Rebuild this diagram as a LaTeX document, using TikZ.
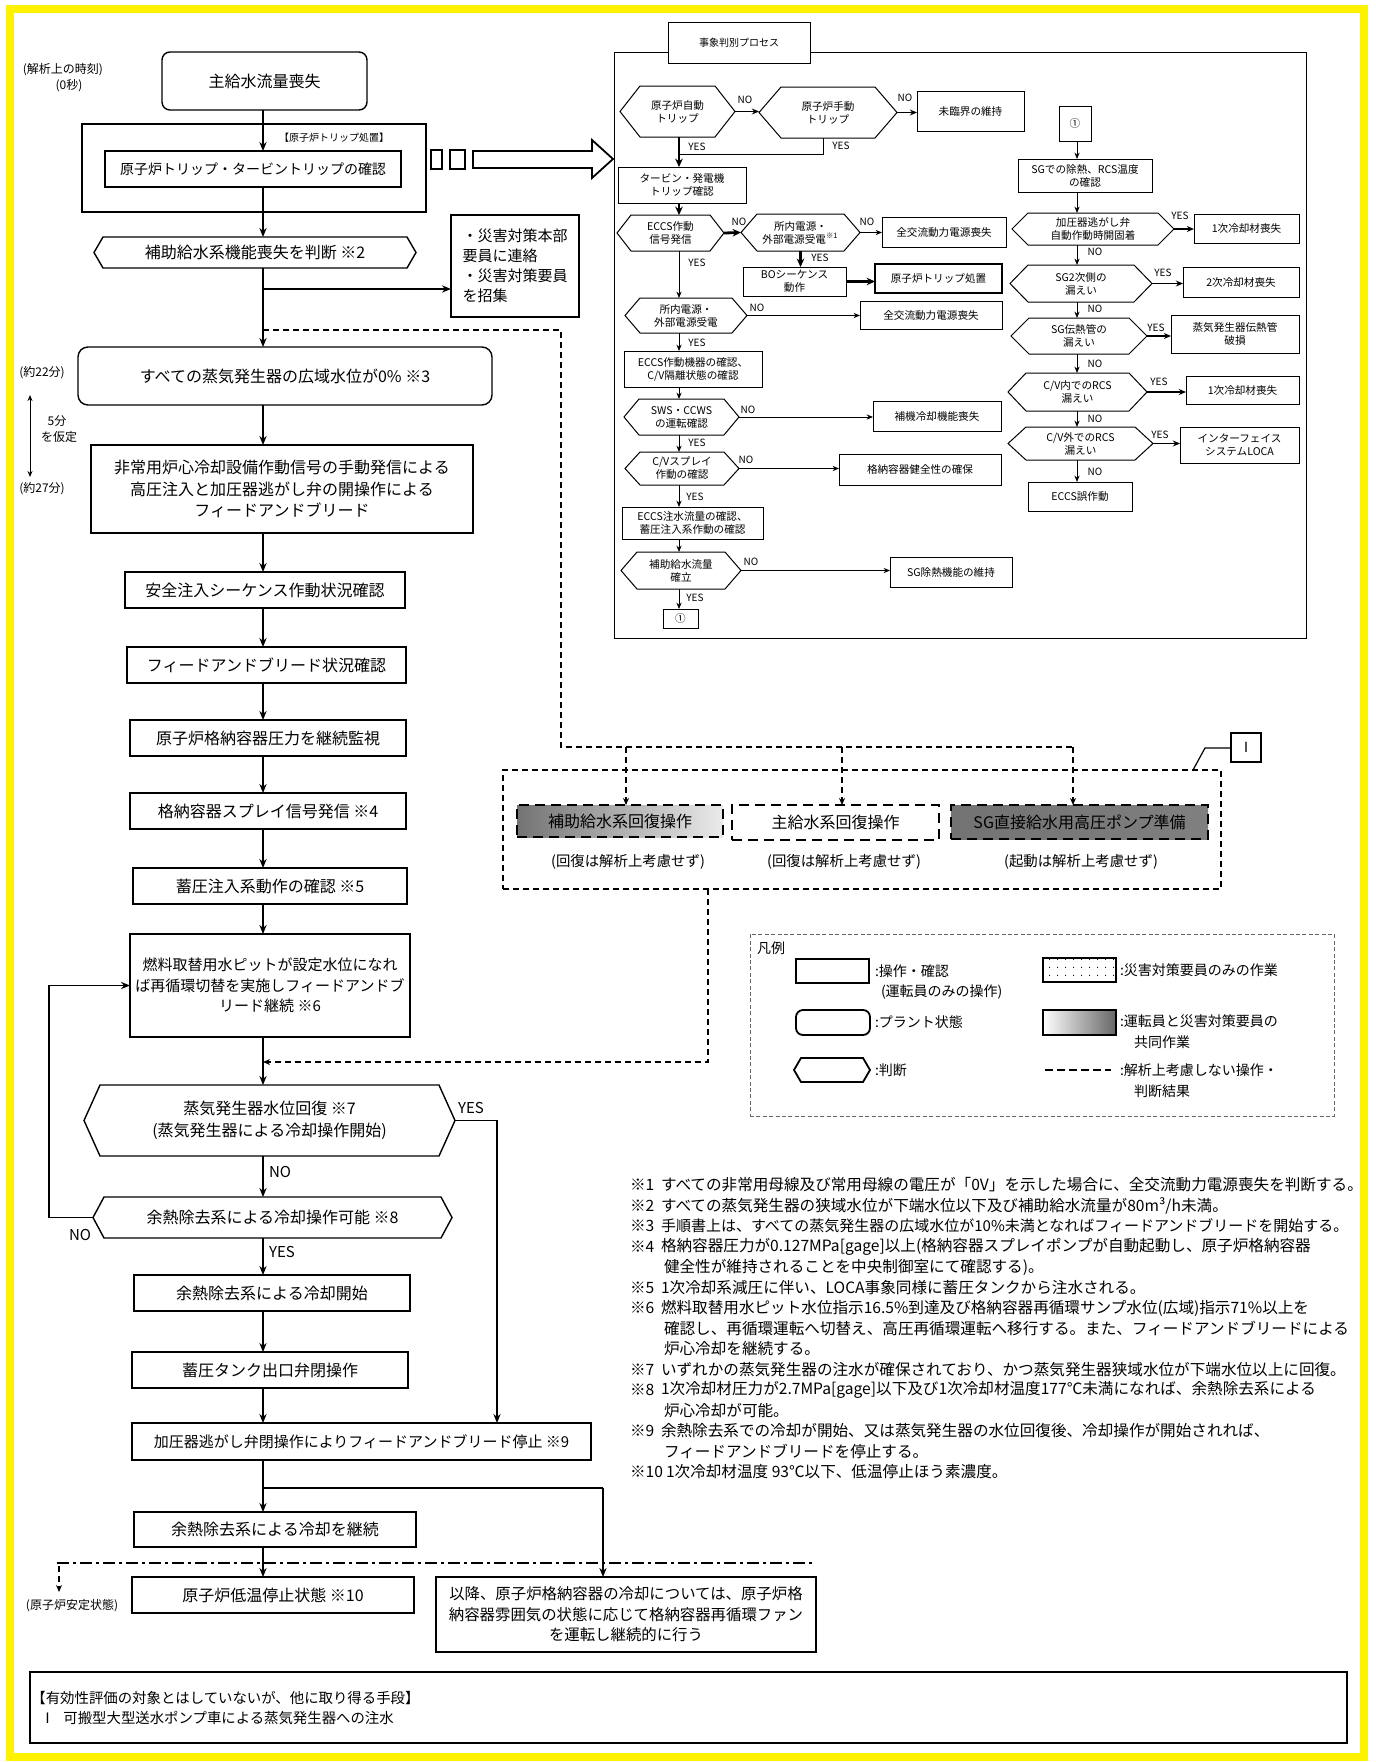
\documentclass[tikz,border=0pt]{standalone}
\usepackage{fontspec}
\setmainfont{Noto Sans CJK JP}
\usetikzlibrary{arrows.meta,patterns.meta}
\newcommand\fmn{\fontsize{8pt}{10.75pt}\selectfont}
\newcommand\fmh{\fontsize{7.5pt}{10.25pt}\selectfont}
\newcommand\fmx{\fontsize{7pt}{9pt}\selectfont}
\newcommand\fsm{\fontsize{6pt}{7.5pt}\selectfont}
\newcommand\ftiny{\fontsize{5pt}{6.5pt}\selectfont}
\newcommand\frp{\fontsize{5.3pt}{6.5pt}\selectfont}
\newcommand\fnt{\fontsize{7.8pt}{10pt}\selectfont}
\newcommand\fnts{\fontsize{7.5pt}{10pt}\selectfont}
\newcommand\fyn{\fontsize{7.5pt}{9pt}\selectfont}
\newcommand\fgr{\fontsize{7.2pt}{9pt}\selectfont}
\newcommand\fsai{\fontsize{7.5pt}{10pt}\selectfont}
\newcommand\fik{\fontsize{7.7pt}{10.3pt}\selectfont}
\newcommand\mybx[7][]{\node[bxs,minimum width={(#5-#3)*0.5pt},minimum height={(#6-#4)*0.5pt},#1] (#2) at ({(#3+#5)/2},{(#4+#6)/2}) {#7};}
\newcommand\myhx[8][]{\node[hxs,minimum width={(#5-#3)*0.5pt},minimum height={(#6-#4)*0.5pt},#1] (#2) at ({(#3+#5)/2},{(#4+#6)/2}) {#8};
\draw[hxl] (#2.west) -- ({#3+#7},#4) -- ({#5-#7},#4) -- (#2.east) -- ({#5-#7},#6) -- ({#3+#7},#6) -- cycle;}
\begin{document}
\begin{tikzpicture}[x=0.5pt,y=-0.5pt,
  bxs/.style={draw,line width=0.7pt,inner sep=0pt,outer sep=0pt,align=center,font=\fmn},
  hxs/.style={inner sep=0pt,outer sep=0pt,align=center,font=\fmn},
  hxl/.style={draw,line width=0.7pt},
  lbl/.style={inner sep=0pt,outer sep=0pt,font=\fsm},
  yn/.style={inner sep=0pt,outer sep=0pt,font=\fyn},
  rl/.style={inner sep=0pt,outer sep=0pt,font=\ftiny},
  arr/.style={line width=0.7pt,-{Stealth[length=4.5pt,width=3.6pt]}},
  ln/.style={line width=0.7pt},
  rar/.style={line width=0.5pt,-{Stealth[length=3.2pt,width=2.6pt]}},
  rmd/.style={line width=0.9pt,-{Stealth[length=3.6pt,width=3pt]}},
  rtk/.style={line width=1.4pt,-{Stealth[length=4.2pt,width=3.8pt]}},
  rln/.style={line width=0.5pt},
  dsh/.style={line width=0.8pt,dash pattern=on 3pt off 2pt},
  dsharr/.style={dsh,-{Stealth[length=3.5pt,width=3pt]}},
  gdash/.style={line width=1.4pt,dash pattern=on 5pt off 3pt},
  note/.style={inner sep=0pt,outer sep=0pt,anchor=west,font=\fnt},
  lgt/.style={inner sep=0pt,outer sep=0pt,anchor=west,font=\fmx}
]
\useasboundingbox (0,0) rectangle (1376,1762);
\fill[white] (0,0) rectangle (1376,1762);
\draw[yellow,line width=4pt] (10,9) rectangle (1364,1757);

% ---------- timing labels ----------
\node[lbl] (t0a) at (63,70) {(解析上の時刻)};
\node[lbl] (t0b) at (69,86) {(0秒)};
\node[lbl] (t22) at (42,373) {(約22分)};
\node[lbl] (t5a) at (57,421) {5分};
\node[lbl] (t5b) at (59,437) {を仮定};
\node[lbl] (t27) at (42,489) {(約27分)};
\coordinate (ta) at (30,395);
\coordinate (tb) at (30,477);
\draw[line width=0.5pt,{Stealth[length=3pt,width=2.5pt]}-{Stealth[length=3pt,width=2.5pt]}] (ta) -- (tb);

% ---------- left column ----------
\coordinate (cx) at (263,0);
\mybx[rounded corners=4pt]{n0}{162}{52}{367}{110}{主給水流量喪失}
\mybx{ntg}{82}{124}{426}{212}{}
\node[lbl,font=\ftiny] (ntl) at (334,138) {【原子炉トリップ処置】};
\mybx[font=\fmx]{ntrip}{105}{151}{401}{187}{原子炉トリップ・タービントリップの確認}
\mybx[line width=0.6pt]{sq1}{431}{150}{442}{169}{}
\mybx[line width=0.6pt]{sq2}{450}{150}{465}{169}{}
\draw[line width=0.9pt] (473,151) -- (592,151) -- (592,140) -- (613,159) -- (592,178) -- (592,168) -- (473,168) -- cycle;
\myhx{nh2}{94}{237}{416}{268}{9}{補助給水系機能喪失を判断 ※2}
\mybx[align=left,font=\fsai]{nsai}{451}{215}{579}{317}{・災害対策本部\\要員に連絡\\・災害対策要員\\を招集}
\mybx[rounded corners=5pt]{n3}{78}{347}{492}{405}{すべての蒸気発生器の広域水位が0\% ※3}
\mybx{n4}{91}{445}{473}{533}{非常用炉心冷却設備作動信号の手動発信による\\高圧注入と加圧器逃がし弁の開操作による\\フィードアンドブリード}
\mybx{n5}{125}{572}{405}{608}{安全注入シーケンス作動状況確認}
\mybx{n6}{127}{647}{406}{683}{フィードアンドブリード状況確認}
\mybx{n7}{130}{720}{406}{756}{原子炉格納容器圧力を継続監視}
\mybx{n8}{130}{793}{406}{829}{格納容器スプレイ信号発信 ※4}
\mybx{n9}{133}{868}{407}{904}{蓄圧注入系動作の確認 ※5}
\mybx[font=\fmh]{n10}{130}{934}{410}{1037}{燃料取替用水ピットが設定水位になれ\\ば再循環切替を実施しフィードアンドブ\\リード継続 ※6}
\myhx{nh7}{84}{1085}{455}{1156}{16}{蒸気発生器水位回復 ※7\\(蒸気発生器による冷却操作開始)}
\myhx{nh8}{93}{1197}{452}{1238}{11}{余熱除去系による冷却操作可能 ※8}
\mybx{n11}{134}{1275}{410}{1311}{余熱除去系による冷却開始}
\mybx{n12}{132}{1352}{408}{1388}{蓄圧タンク出口弁閉操作}
\mybx[font=\fmh]{n13}{132}{1423}{591}{1460}{加圧器逃がし弁閉操作によりフィードアンドブリード停止 ※9}
\mybx{n14}{134}{1512}{416}{1547}{余熱除去系による冷却を継続}
\mybx{n15}{132}{1577}{414}{1613}{原子炉低温停止状態 ※10}
\mybx[font=\fik]{n16}{436}{1577}{816}{1652}{以降、原子炉格納容器の冷却については、原子炉格\\納容器雰囲気の状態に応じて格納容器再循環ファン\\を運転し継続的に行う}
\mybx{n17}{30}{1672}{1347}{1743}{}
\node[inner sep=0pt,anchor=west,font=\fgr] (n17a) at (31,1698) {【有効性評価の対象とはしていないが、他に取り得る手段】};
\node[inner sep=0pt,anchor=west,font=\fgr] (n17b) at (40,1718) {Ⅰ\hspace{0.6em}可搬型大型送水ポンプ車による蒸気発生器への注水};

\node[yn] (ly1) at (471,1108) {YES};
\node[yn] (ln1) at (280,1172) {NO};
\node[yn] (ly2) at (282,1252) {YES};
\node[yn] (ln2) at (80,1235) {NO};

% left column connectors
\draw[arr] (n0.south -| cx) -- (ntrip.north -| cx);
\draw[arr] (ntrip.south -| cx) -- (nh2.north -| cx);
\draw[arr] (nh2.south -| cx) -- (n3.north -| cx);
\coordinate (b1) at (263,289);
\draw[arr] (b1) -- (b1 -| nsai.west);
\draw[arr] (n3.south -| cx) -- (n4.north -| cx);
\draw[arr] (n4.south -| cx) -- (n5.north -| cx);
\draw[arr] (n5.south -| cx) -- (n6.north -| cx);
\draw[arr] (n6.south -| cx) -- (n7.north -| cx);
\draw[arr] (n7.south -| cx) -- (n8.north -| cx);
\draw[arr] (n8.south -| cx) -- (n9.north -| cx);
\draw[arr] (n9.south -| cx) -- (n10.north -| cx);
\draw[arr] (n10.south -| cx) -- (nh7.north -| cx);
\draw[arr] (nh7.south -| cx) -- (nh8.north -| cx);
\draw[arr] (nh8.south -| cx) -- (n11.north -| cx);
\draw[arr] (n11.south -| cx) -- (n12.north -| cx);
\draw[arr] (n12.south -| cx) -- (n13.north -| cx);
\coordinate (yx) at (497,0);
\draw[arr] (nh7.east) -- (nh7.east -| yx) -- (yx |- n13.north);
\coordinate (lp) at (49,0);
\draw[arr] (nh8.west) -- (nh8.west -| lp) -- (lp |- n10.west) -- (n10.west);
\draw[arr] (n13.south -| cx) -- (n14.north -| cx);
\coordinate (br) at (263,1488);
\coordinate (br2) at (603,1488);
\draw[ln] (br) -- (br2);
\draw[arr] (br2) -- (br2 |- n16.north);
\draw[arr] (n14.south -| cx) -- (n15.north -| cx);
\coordinate (dd1) at (57,1563);
\coordinate (dd2) at (812,1563);
\draw[line width=1.1pt,dash pattern=on 6pt off 2pt on 1.5pt off 2pt] (dd1) -- (dd2);
\coordinate (sa) at (59,1566);
\coordinate (sb) at (59,1592);
\draw[dsharr] (sa) -- (sb);
\node[lbl] (stab) at (72,1606) {(原子炉安定状態)};

% ---------- right panel ----------
\begin{scope}[bxs/.style={draw,line width=0.5pt,inner sep=0pt,outer sep=0pt,align=center,font=\frp},
  hxs/.style={inner sep=0pt,outer sep=0pt,align=center,font=\frp},
  hxl/.style={draw,line width=0.5pt}]
\mybx{pan}{614}{52}{1306}{638}{}
\mybx[fill=white,font=\ftiny]{ttl}{668}{22}{810}{63}{事象判別プロセス}
\coordinate (lx) at (679,0);
\coordinate (rx) at (1077,0);
\myhx{R1}{620}{86}{735}{137}{20}{原子炉自動\\トリップ}
\myhx{R2}{759}{87}{897}{138}{22}{原子炉手動\\トリップ}
\mybx{R3}{917}{91}{1024}{131}{未臨界の維持}
\mybx{R4}{618}{167}{746}{203}{タービン・発電機\\トリップ確認}
\myhx{R5}{617}{215}{724}{251}{14}{ECCS作動\\信号発信}
\myhx{R6}{741}{214}{860}{251}{16}{所内電源・\\外部電源受電\textsuperscript{※1}}
\mybx{R7}{882}{217}{1006}{247}{全交流動力電源喪失}
\mybx{R8}{743}{267}{846}{296}{BOシーケンス\\動作}
\mybx[line width=1.3pt]{R9}{875}{264}{1002}{293}{原子炉トリップ処置}
\myhx{R10}{625}{298}{747}{333}{15}{所内電源・\\外部電源受電}
\mybx{R11}{860}{301}{1002}{329}{全交流動力電源喪失}
\mybx{R12}{624}{351}{762}{387}{ECCS作動機器の確認、\\C/V隔離状態の確認}
\myhx{R13}{624}{399}{739}{435}{15}{SWS・CCWS\\の運転確認}
\mybx{R14}{873}{401}{1001}{431}{補機冷却機能喪失}
\myhx{R15}{625}{452}{739}{485}{15}{C/Vスプレイ\\作動の確認}
\mybx{R16}{839}{454}{1001}{485}{格納容器健全性の確保}
\mybx{R17}{622}{507}{763}{539}{ECCS注水流量の確認、\\蓄圧注入系作動の確認}
\myhx{R18}{621}{552}{741}{589}{16}{補助給水流量\\確立}
\mybx{R19}{890}{557}{1012}{587}{SG除熱機能の維持}
\mybx{R20}{663}{609}{698}{628}{①}
\mybx{Q0}{1059}{106}{1091}{141}{①}
\mybx{Q1}{1018}{159}{1152}{192}{SGでの除熱、RCS温度\\の確認}
\myhx{Q2}{1012}{213}{1174}{245}{16}{加圧器逃がし弁\\自動作動時開固着}
\mybx{Q3}{1194}{214}{1299}{243}{1次冷却材喪失}
\myhx{Q4}{1010}{265}{1152}{302}{18}{SG2次側の\\漏えい}
\mybx{Q5}{1183}{267}{1299}{297}{2次冷却材喪失}
\myhx{Q6}{1011}{318}{1147}{354}{18}{SG伝熱管の\\漏えい}
\mybx{Q7}{1171}{315}{1299}{353}{蒸気発生器伝熱管\\破損}
\myhx{Q8}{1008}{373}{1147}{411}{18}{C/V内でのRCS\\漏えい}
\mybx{Q9}{1186}{376}{1299}{404}{1次冷却材喪失}
\myhx{Q10}{1008}{427}{1153}{460}{18}{C/V外でのRCS\\漏えい}
\mybx{Q11}{1180}{427}{1299}{463}{インターフェイス\\システムLOCA}
\mybx{Q12}{1028}{482}{1132}{511}{ECCS誤作動}
% labels
\node[rl] (a1) at (745,100) {NO};
\node[rl] (a2) at (905,98) {NO};
\node[rl] (a3) at (697,147) {YES};
\node[rl] (a4) at (841,146) {YES};
\node[rl] (a5) at (739,222) {NO};
\node[rl] (a6) at (867,222) {NO};
\node[rl] (a7) at (820,258) {YES};
\node[rl] (a8) at (697,263) {YES};
\node[rl] (a9) at (757,308) {NO};
\node[rl] (a10) at (697,343) {YES};
\node[rl] (a11) at (748,410) {NO};
\node[rl] (a12) at (697,443) {YES};
\node[rl] (a13) at (746,460) {NO};
\node[rl] (a14) at (695,497) {YES};
\node[rl] (a15) at (751,562) {NO};
\node[rl] (a16) at (695,598) {YES};
\node[rl] (c1) at (1180,216) {YES};
\node[rl] (c2) at (1095,252) {NO};
\node[rl] (c3) at (1163,273) {YES};
\node[rl] (c4) at (1095,309) {NO};
\node[rl] (c5) at (1156,328) {YES};
\node[rl] (c6) at (1095,364) {NO};
\node[rl] (c7) at (1159,382) {YES};
\node[rl] (c8) at (1095,419) {NO};
\node[rl] (c9) at (1160,435) {YES};
\node[rl] (c10) at (1095,472) {NO};
% connectors
\draw[rmd] (R1.east) -- (R1.east -| R2.west);
\draw[rmd] (R2.east) -- (R2.east -| R3.west);
\draw[rtk] (R1.south -| lx) -- (R4.north -| lx);
\coordinate (j1) at (823,154);
\draw[rln] (R2.south -| j1) -- (j1) -- (j1 -| lx);
\draw[rtk] (R4.south -| lx) -- (R5.north -| lx);
\draw[rtk] (R5.east) -- (R6.west);
\draw[rar] (R6.east) -- (R6.east -| R7.west);
\draw[rtk] (R6.south) -- (R6.south |- R8.north);
\draw[rtk] (R8.east) -- (R8.east -| R9.west);
\draw[rar] (R5.south -| lx) -- (R10.north -| lx);
\draw[rar] (R10.east) -- (R10.east -| R11.west);
\draw[rar] (R10.south -| lx) -- (R12.north -| lx);
\draw[rar] (R12.south -| lx) -- (R13.north -| lx);
\draw[rar] (R13.east) -- (R13.east -| R14.west);
\draw[rar] (R13.south -| lx) -- (R15.north -| lx);
\draw[rar] (R15.east) -- (R15.east -| R16.west);
\draw[rar] (R15.south -| lx) -- (R17.north -| lx);
\draw[rar] (R17.south -| lx) -- (R18.north -| lx);
\draw[rar] (R18.east) -- (R18.east -| R19.west);
\draw[rar] (R18.south -| lx) -- (R20.north -| lx);
\draw[rar] (Q0.south -| rx) -- (Q1.north -| rx);
\draw[rar] (Q1.south -| rx) -- (Q2.north -| rx);
\draw[rmd] (Q2.east) -- (Q2.east -| Q3.west);
\draw[rar] (Q2.south -| rx) -- (Q4.north -| rx);
\draw[rmd] (Q4.east) -- (Q4.east -| Q5.west);
\draw[rar] (Q4.south -| rx) -- (Q6.north -| rx);
\draw[rmd] (Q6.east) -- (Q6.east -| Q7.west);
\draw[rar] (Q6.south -| rx) -- (Q8.north -| rx);
\draw[rmd] (Q8.east) -- (Q8.east -| Q9.west);
\draw[rar] (Q8.south -| rx) -- (Q10.north -| rx);
\draw[rmd] (Q10.east) -- (Q10.east -| Q11.west);
\draw[rar] (Q10.south -| rx) -- (Q12.north -| rx);
\end{scope}

% ---------- group of recovery operations ----------
\mybx[dsh,draw]{ng}{503}{770}{1221}{889}{}
\mybx[gdash,left color=black!55,right color=black!8]{g1}{517}{805}{723}{837}{補助給水系回復操作}
\mybx[gdash]{g2}{732}{805}{939}{840}{主給水系回復操作}
\mybx[gdash,left color=black!55,middle color=black!4,right color=black!50]{g3}{951}{805}{1208}{839}{SG直接給水用高圧ポンプ準備}
\node[lbl,font=\fgr] (g1t) at (628,862) {(回復は解析上考慮せず)};
\node[lbl,font=\fgr] (g2t) at (844,862) {(回復は解析上考慮せず)};
\node[lbl,font=\fgr] (g3t) at (1081,862) {(起動は解析上考慮せず)};
\mybx[font=\fmx,line width=0.6pt]{cI}{1231}{733}{1261}{762}{Ⅰ}
\coordinate (cIa) at (1205,748);
\coordinate (cIb) at (1193,770);
\draw[line width=0.6pt] (cI.west |- cIa) -- (cIa) -- (cIb);
\coordinate (d0) at (263,330);
\coordinate (d1) at (561,330);
\coordinate (d2) at (561,747);
\coordinate (d3) at (1073,747);
\coordinate (e1) at (626,747);
\coordinate (e2) at (842,747);
\draw[dsh] (d0) -- (d1) -- (d2) -- (d3);
\draw[dsharr] (e1) -- (e1 |- g1.north);
\draw[dsharr] (e2) -- (e2 |- g2.north);
\draw[dsharr] (d3) -- (d3 |- g3.north);
\coordinate (f1) at (708,1062);
\draw[dsharr] (f1 |- ng.south) -- (f1) -- (f1 -| cx);

% ---------- legend ----------
\begin{scope}[bxs/.style={draw,line width=0.9pt,inner sep=0pt,outer sep=0pt},
  hxl/.style={draw,line width=0.9pt}]
\mybx[draw=black!60,line width=0.5pt,dash pattern=on 2pt off 1.2pt]{lg}{750}{934}{1334}{1116}{}
\node[lgt] (lgh) at (757,948) {凡例};
\mybx{lg1}{796}{959}{869}{983}{}
\mybx[rounded corners=3.5pt]{lg2}{796}{1010}{870}{1035}{}
\myhx{lg3}{794}{1058}{870}{1082}{7}{}
\mybx[line width=0.7pt,pattern={Dots[distance=4pt,radius=0.35pt,xshift=1pt,yshift=1.5pt]}]{lg4}{1043}{958}{1116}{982}{}
\mybx[line width=0.7pt,left color=white,right color=black!60]{lg5}{1043}{1010}{1116}{1035}{}
\coordinate (lg6a) at (1045,1070);
\coordinate (lg6b) at (1111,1070);
\draw[line width=1.4pt,dash pattern=on 4pt off 2pt] (lg6a) -- (lg6b);
\node[lgt] (lt1) at (875,971) {:操作・確認};
\node[lgt] (lt1b) at (881,992) {(運転員のみの操作)};
\node[lgt] (lt2) at (875,1022) {:プラント状態};
\node[lgt] (lt3) at (875,1070) {:判断};
\node[lgt] (lt4) at (1120,970) {:災害対策要員のみの作業};
\node[lgt] (lt5) at (1120,1021) {:運転員と災害対策要員の};
\node[lgt] (lt5b) at (1134,1042) {共同作業};
\node[lgt] (lt6) at (1120,1070) {:解析上考慮しない操作・};
\node[lgt] (lt6b) at (1134,1091) {判断結果};
\end{scope}

% ---------- notes ----------
\node[note] (m1) at (630,1185) {※1};
\node[note] (t1) at (661,1185) {すべての非常用母線及び常用母線の電圧が「0V」を示した場合に、全交流動力電源喪失を判断する。};
\node[note] (m2) at (630,1205.5) {※2};
\node[note] (t2) at (661,1205.5) {すべての蒸気発生器の狭域水位が下端水位以下及び補助給水流量が80m³/h未満。};
\node[note] (m3) at (630,1226) {※3};
\node[note,font=\fnts] (t3) at (661,1226) {手順書上は、すべての蒸気発生器の広域水位が10\%未満となればフィードアンドブリードを開始する。};
\node[note] (m4) at (630,1246.5) {※4};
\node[note] (t4) at (661,1246.5) {格納容器圧力が0.127MPa[gage]以上(格納容器スプレイポンプが自動起動し、原子炉格納容器};
\node[note] (t4b) at (664,1267) {健全性が維持されることを中央制御室にて確認する)。};
\node[note] (m5) at (630,1287.5) {※5};
\node[note] (t5) at (661,1287.5) {1次冷却系減圧に伴い、LOCA事象同様に蓄圧タンクから注水される。};
\node[note] (m6) at (630,1308) {※6};
\node[note] (t6) at (661,1308) {燃料取替用水ピット水位指示16.5\%到達及び格納容器再循環サンプ水位(広域)指示71\%以上を};
\node[note] (t6b) at (664,1328.5) {確認し、再循環運転へ切替え、高圧再循環運転へ移行する。また、フィードアンドブリードによる};
\node[note] (t6c) at (664,1349) {炉心冷却を継続する。};
\node[note] (m7) at (630,1369.5) {※7};
\node[note] (t7) at (661,1369.5) {いずれかの蒸気発生器の注水が確保されており、かつ蒸気発生器狭域水位が下端水位以上に回復。};
\node[note] (m8) at (630,1390) {※8};
\node[note] (t8) at (661,1390) {1次冷却材圧力が2.7MPa[gage]以下及び1次冷却材温度177℃未満になれば、余熱除去系による};
\node[note] (t8b) at (664,1410.5) {炉心冷却が可能。};
\node[note] (m9) at (630,1431) {※9};
\node[note] (t9) at (661,1431) {余熱除去系での冷却が開始、又は蒸気発生器の水位回復後、冷却操作が開始されれば、};
\node[note] (t9b) at (664,1451.5) {フィードアンドブリードを停止する。};
\node[note] (m10) at (630,1472) {※10};
\node[note] (t10) at (666,1472) {1次冷却材温度 93℃以下、低温停止ほう素濃度。};
\end{tikzpicture}
\end{document}
